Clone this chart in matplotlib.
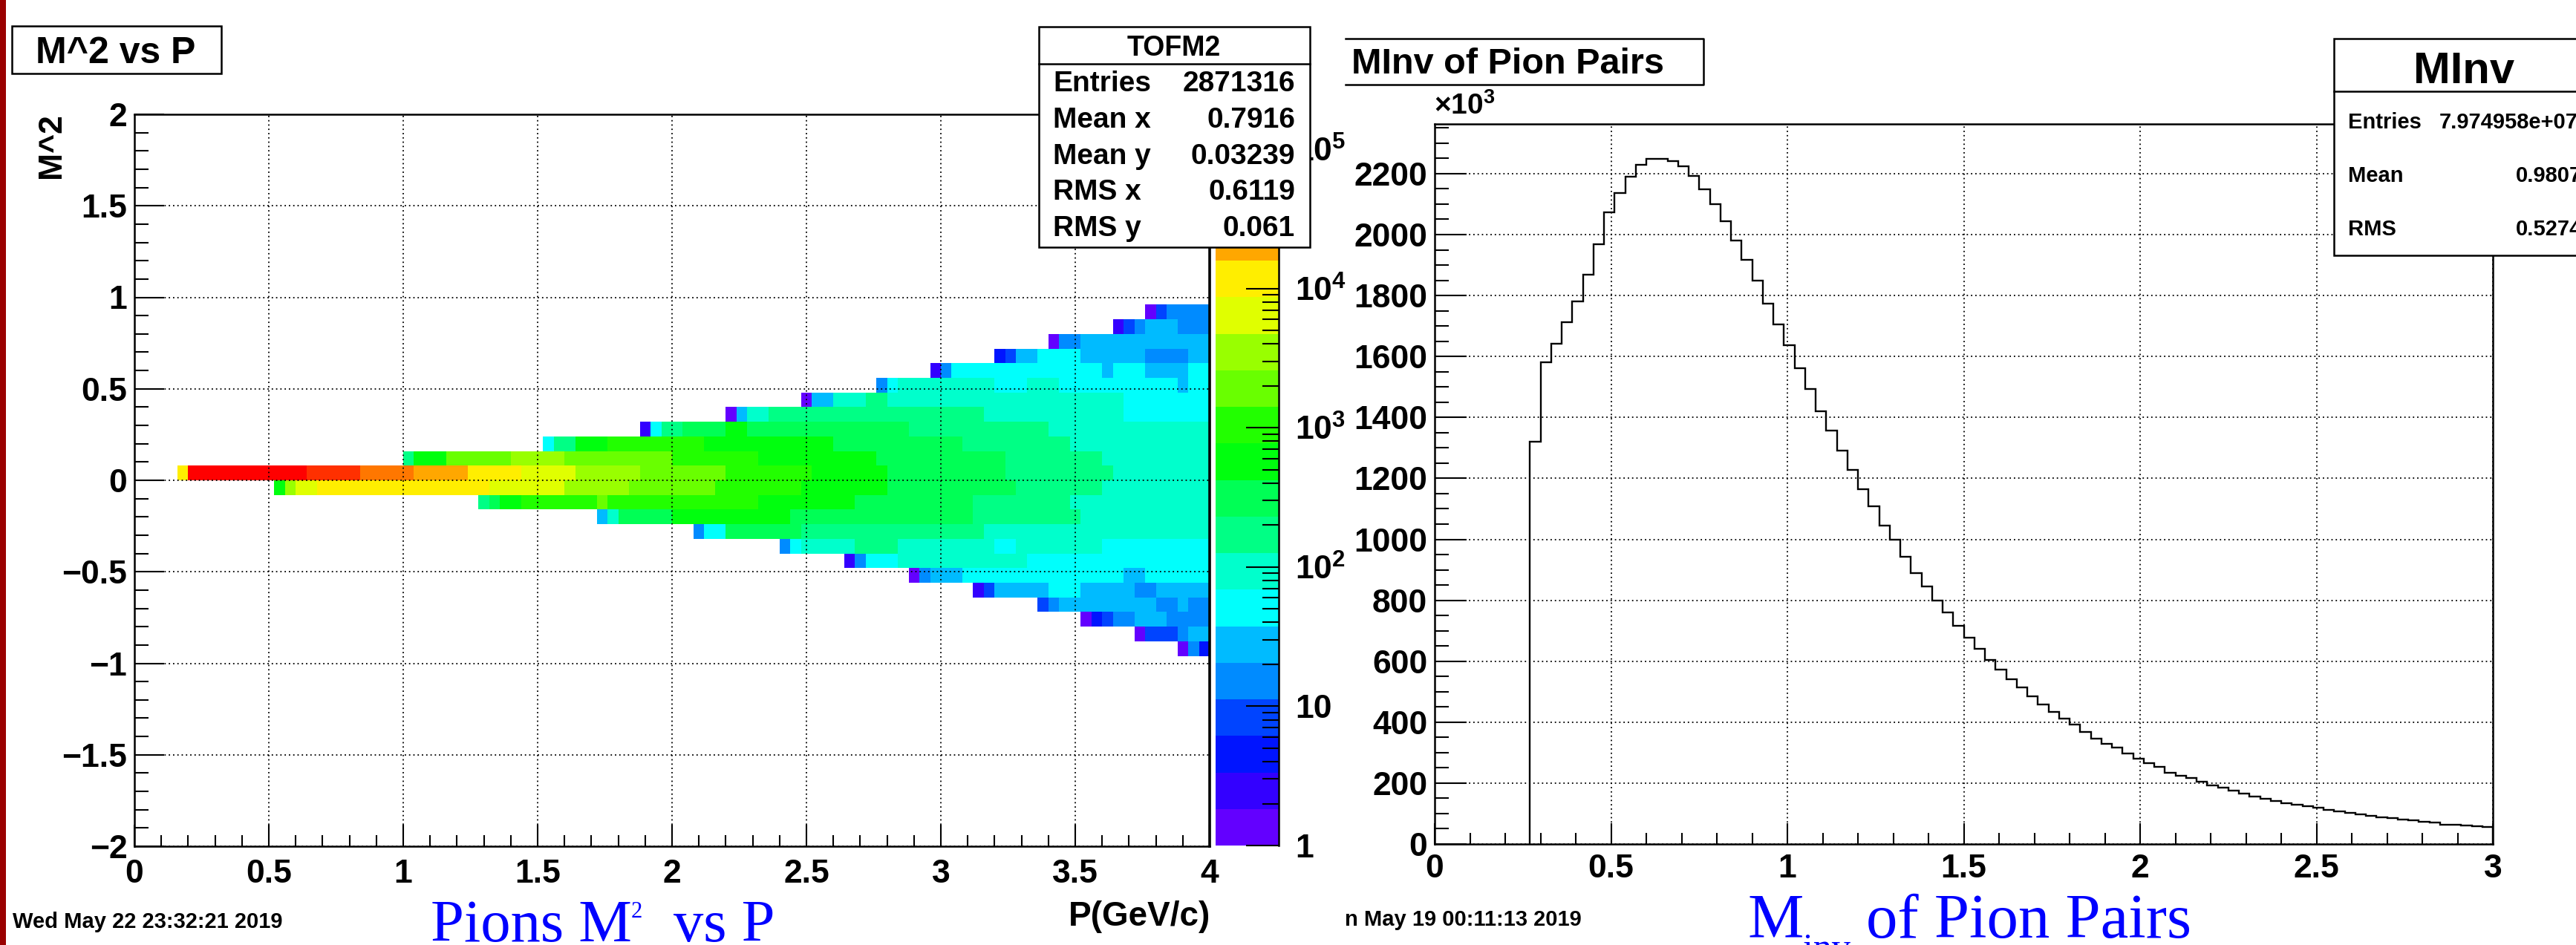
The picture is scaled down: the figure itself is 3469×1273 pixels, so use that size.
import colorsys
import numpy as np
import matplotlib
matplotlib.use("Agg")
import matplotlib.pyplot as plt
from matplotlib.colors import ListedColormap, LogNorm
from matplotlib.patches import Rectangle
from matplotlib.ticker import MultipleLocator, FixedLocator, FuncFormatter, NullFormatter

W, H = 3469, 1273
DPI = 100

plt.rcParams['font.family'] = ['Liberation Sans', 'DejaVu Sans']
plt.rcParams['font.weight'] = 'bold'
plt.rcParams['mathtext.fontset'] = 'custom'
plt.rcParams['mathtext.rm'] = 'Liberation Sans'
plt.rcParams['mathtext.bf'] = 'Liberation Sans:bold'

# ---- left panel: TOFM2, M^2 vs P (100 x 50 bins, 0..4 / -2..2) ----
# each row: lower M^2 edge, then runs of (first P-bin, colour level 0..19)
m2_row_lo = [0.88, 0.80, 0.72, 0.64, 0.56, 0.48, 0.40, 0.32, 0.24, 0.16, 0.08, 0.00,
             -0.08, -0.16, -0.24, -0.32, -0.40, -0.48, -0.56, -0.64, -0.72, -0.80, -0.88, -0.96]
m2_runs = [
    [(94, 0), (95, 3), (96, 4)],
    [(91, 1), (92, 3), (93, 4), (94, 5), (97, 4)],
    [(85, 0), (86, 4), (88, 5)],
    [(80, 2), (81, 3), (82, 5), (84, 6), (88, 5), (94, 4), (98, 5)],
    [(74, 1), (75, 4), (76, 6), (90, 5), (91, 6), (94, 5), (98, 6)],
    [(69, 4), (70, 6), (71, 7), (80, 6), (83, 7), (86, 6), (97, 5), (98, 6)],
    [(62, 0), (63, 5), (65, 7), (68, 8), (70, 7), (92, 6)],
    [(55, 0), (56, 5), (57, 7), (59, 8), (79, 7), (92, 6)],
    [(47, 1), (48, 6), (49, 8), (51, 9), (55, 10), (57, 9), (72, 8), (85, 7)],
    [(38, 6), (39, 8), (41, 10), (44, 11), (53, 10), (65, 9), (77, 8), (87, 7)],
    [(25, 8), (26, 10), (29, 12), (35, 13), (40, 12), (50, 11), (58, 10), (69, 9), (81, 8), (90, 7)],
    [(4, 15), (5, 19), (16, 18), (21, 17), (26, 16), (31, 15), (36, 14), (41, 13), (47, 12),
     (55, 11), (63, 10), (70, 9), (81, 8), (91, 7)],
    [(13, 10), (14, 13), (15, 14), (17, 15), (33, 14), (40, 13), (46, 12), (54, 11), (62, 10),
     (70, 9), (82, 8), (90, 7)],
    [(32, 8), (33, 9), (34, 10), (36, 11), (43, 12), (44, 11), (58, 10), (67, 9), (78, 8), (87, 7)],
    [(43, 5), (44, 7), (45, 9), (50, 10), (61, 9), (78, 8), (88, 7)],
    [(52, 4), (53, 6), (55, 9), (62, 8), (79, 7)],
    [(60, 4), (61, 6), (62, 7), (67, 8), (71, 7), (80, 6), (82, 7), (90, 6)],
    [(66, 1), (67, 4), (68, 6), (71, 7), (83, 6)],
    [(72, 0), (73, 4), (74, 5), (77, 6), (92, 5), (94, 6)],
    [(78, 1), (79, 3), (80, 5), (85, 6), (88, 5), (93, 4), (95, 5)],
    [(84, 3), (85, 4), (86, 5), (95, 4), (97, 5), (98, 4)],
    [(88, 0), (89, 2), (90, 3), (91, 4), (93, 5), (96, 4)],
    [(93, 0), (94, 3), (97, 4), (98, 5)],
    [(97, 0), (98, 4), (99, 2)],
]
z_log_max = 5.25      # colour axis runs 1 .. 10^5.25, 20 levels
tofm2_stats = [("Entries", "2871316"), ("Mean x", "0.7916"), ("Mean y", "0.03239"),
               ("RMS x", "0.6119"), ("RMS y", "0.061")]

# ---- right panel: MInv of pion pairs, 100 bins 0..3, shown in units of 10^3 ----
minv_first_edge = 0.27
minv_counts = [1320, 1582, 1643, 1713, 1780, 1868, 1969, 2074, 2136, 2191,
               2230, 2248, 2248, 2242, 2225, 2192, 2148, 2099, 2044, 1980,
               1918, 1848, 1773, 1705, 1636, 1562, 1494, 1420, 1358, 1290,
               1228, 1164, 1108, 1046, 998, 943, 890, 846, 798, 761,
               716, 678, 641, 604, 573, 540, 515, 484, 459, 434,
               412, 391, 368, 347, 330, 316, 298, 279, 266, 254,
               235, 224, 217, 204, 193, 186, 175, 165, 156, 148,
               142, 135, 130, 125, 119, 112, 106, 102, 97, 92,
               88, 86, 80, 77, 74, 70, 64, 63, 61, 58, 56]
minv_ymax = 2363
minv_stats = [("Entries", "7.974958e+07"), ("Mean", "0.9807"), ("RMS", "0.5274")]


def rect(x0, y0, x1, y1):
    return [x0 / W, 1 - y1 / H, (x1 - x0) / W, (y1 - y0) / H]


def num(v, pos=None):
    return ("%g" % v).replace("-", "\u2212")


# ROOT palette 1, sampled for 20 contours
palette = []
for k in range(20):
    i = int((k + 0.99) * 50 / 20)
    hue = 280 - (i + 1) * 280 / 50
    palette.append(colorsys.hls_to_rgb(hue / 360, 0.5, 1.0))
cmap = ListedColormap(palette)
norm = LogNorm(1, 10 ** z_log_max)

fig = plt.figure(figsize=(W / DPI, H / DPI), dpi=DPI)
fig.patch.set_facecolor('white')

grid_kw = dict(color='black', linestyle=(0, (1, 2.2)), linewidth=1.3)
LW = 1.8

# heatmap
counts = np.full((50, 100), np.nan)
for lo, runs in zip(m2_row_lo, m2_runs):
    r = int(round((lo + 2) / 0.08))
    ends = [c for c, _ in runs[1:]] + [100]
    for (c0, lvl), c1 in zip(runs, ends):
        counts[r, c0:c1] = 10 ** ((lvl + 0.5) * z_log_max / 20)

ax1 = fig.add_axes(rect(181, 154, 1629, 1140))
ax1.pcolormesh(np.linspace(0, 4, 101), np.linspace(-2, 2, 51),
               np.ma.masked_invalid(counts), cmap=cmap, norm=norm)
ax1.set_xlim(0, 4)
ax1.set_ylim(-2, 2)
ax1.set_axisbelow(False)
ax1.grid(True, which='major', **grid_kw)
ax1.xaxis.set_major_locator(MultipleLocator(0.5))
ax1.xaxis.set_minor_locator(MultipleLocator(0.1))
ax1.yaxis.set_major_locator(MultipleLocator(0.5))
ax1.yaxis.set_minor_locator(MultipleLocator(0.1))
ax1.xaxis.set_major_formatter(FuncFormatter(num))
ax1.yaxis.set_major_formatter(FuncFormatter(num))
ax1.tick_params(which='both', direction='in', labelsize=32, width=1.5)
ax1.tick_params(axis='x', which='major', length=21, pad=12)
ax1.tick_params(axis='x', which='minor', length=11)
ax1.tick_params(axis='y', which='major', length=29, pad=7)
ax1.tick_params(axis='y', which='minor', length=14)
for s in ax1.spines.values():
    s.set_linewidth(LW)
ax1.spines['right'].set_linewidth(2.6)

# palette axis
cax = fig.add_axes(rect(1637, 154, 1722, 1139))
band_edges = 10 ** (np.arange(21) * z_log_max / 20)
band_mid = 10 ** ((np.arange(20) + 0.5) * z_log_max / 20)
cax.pcolormesh([0, 1], band_edges, band_mid[:, None], cmap=cmap, norm=norm)
cax.set_yscale('log')
cax.set_ylim(1, 10 ** z_log_max)
cax.set_xlim(0, 1)
cax.set_xticks([])
for side in ('left', 'top', 'bottom'):
    cax.spines[side].set_visible(False)
cax.spines['right'].set_linewidth(LW)
cax.yaxis.tick_right()
cax.yaxis.set_major_locator(FixedLocator([1, 10, 1e2, 1e3, 1e4, 1e5]))
minor = [m * 10 ** d for d in range(6) for m in range(2, 10) if m * 10 ** d < 10 ** z_log_max]
cax.yaxis.set_minor_locator(FixedLocator(minor))
cax.yaxis.set_minor_formatter(NullFormatter())
cax.set_yticklabels(["1", "10", r"$\mathbf{10^{2}}$", r"$\mathbf{10^{3}}$",
                     r"$\mathbf{10^{4}}$", r"$\mathbf{10^{5}}$"])
cax.tick_params(which='both', direction='in', labelsize=32, width=1.5, pad=16)
cax.tick_params(which='major', length=32)
cax.tick_params(which='minor', length=16)

# MInv histogram
minv_edges = minv_first_edge + 0.03 * np.arange(len(minv_counts) + 1)
ax2 = fig.add_axes(rect(1932, 167, 3357, 1137))
ax2.stairs(minv_counts, minv_edges, color='black', linewidth=1.7, baseline=0)
ax2.set_xlim(0, 3)
ax2.set_ylim(0, minv_ymax)
ax2.set_axisbelow(False)
ax2.grid(True, which='major', **grid_kw)
ax2.xaxis.set_major_locator(MultipleLocator(0.5))
ax2.xaxis.set_minor_locator(MultipleLocator(0.1))
ax2.yaxis.set_major_locator(MultipleLocator(200))
ax2.yaxis.set_minor_locator(MultipleLocator(50))
ax2.xaxis.set_major_formatter(FuncFormatter(num))
ax2.yaxis.set_major_formatter(FuncFormatter(num))
ax2.tick_params(which='both', direction='in', labelsize=32, width=1.5)
ax2.tick_params(axis='x', which='major', length=20, pad=9)
ax2.tick_params(axis='x', which='minor', length=11)
ax2.tick_params(axis='y', which='major', length=31, pad=7)
ax2.tick_params(axis='y', which='minor', length=14)
for s in ax2.spines.values():
    s.set_linewidth(LW)

# overlay in pixel coordinates for boxes and free text
ov = fig.add_axes([0, 0, 1, 1], zorder=10)
ov.set_xlim(0, W)
ov.set_ylim(H, 0)
ov.axis('off')
ov.patch.set_alpha(0)

ov.add_patch(Rectangle((0, 0), 8, H, facecolor='#9a0000', edgecolor='none'))

# left title box
ov.add_patch(Rectangle((16, 35), 282, 64, facecolor='white', edgecolor='black', lw=LW))
ov.text(156, 85, "M^2 vs P", fontsize=36, ha='center', va='baseline')

# axis titles
ov.text(69, 152, "M^2", fontsize=32, rotation=90, ha='center', va='top')
ov.text(1630, 1213, "P(GeV/c)", fontsize=33, ha='right', va='top')

# TOFM2 stats box
ov.add_patch(Rectangle((1399, 36), 365, 297, facecolor='white', edgecolor='black', lw=LW, zorder=3))
ov.plot([1399, 1764], [86, 86], color='black', lw=LW, zorder=4)
ov.text(1581, 75, "TOFM2", fontsize=27, ha='center', va='baseline', zorder=5)
for j, (lab, val) in enumerate(tofm2_stats):
    yb = 123 + j * 48.8
    ov.text(1418, yb, lab, fontsize=28, ha='left', va='baseline', zorder=5)
    ov.text(1744, yb, val, fontsize=28, ha='right', va='baseline', zorder=5)

# right title box (left side cut off)
ov.plot([1812, 2294, 2294, 1812], [52, 52, 114, 114], color='black', lw=LW)
ov.text(1820, 99, "MInv of Pion Pairs", fontsize=35, ha='left', va='baseline')
ov.text(1931, 162, r"$\times10^{3}$", fontsize=28, fontweight='normal', ha='left', va='bottom')

# MInv stats box (right side cut off)
ov.add_patch(Rectangle((3143, 52), 350, 292, facecolor='white', edgecolor='black', lw=LW, zorder=3))
ov.plot([3143, 3493], [123, 123], color='black', lw=LW, zorder=4)
ov.text(3318, 112, "MInv", fontsize=43, ha='center', va='baseline', zorder=5)
for j, (lab, val) in enumerate(minv_stats):
    yb = 173 + j * 72
    ov.text(3162, yb, lab, fontsize=21, ha='left', va='baseline', zorder=5)
    ov.text(3285 if j == 0 else 3388, yb, val, fontsize=21, ha='left', va='baseline', zorder=5)

# bottom captions
ov.text(17, 1250, "Wed May 22 23:32:21 2019", fontsize=21, ha='left', va='baseline')
ov.text(1811, 1247, "n May 19 00:11:13 2019", fontsize=21, ha='left', va='baseline')

serif = ['Liberation Serif', 'DejaVu Serif']
blue = '#0000ff'
ov.text(580, 1268, "Pions M", fontsize=58, family=serif, fontweight='normal', color=blue,
        ha='left', va='baseline')
ov.text(850, 1214, "2", fontsize=22, family=serif, fontweight='normal', color=blue,
        ha='left', va='top')
ov.text(907, 1268, "vs P", fontsize=58, family=serif, fontweight='normal', color=blue,
        ha='left', va='baseline')
ov.text(2353, 1263, "M", fontsize=61, family=serif, fontweight='normal', color=blue,
        ha='left', va='baseline')
ov.text(2428, 1292, "inv", fontsize=36, family=serif, fontweight='normal', color=blue,
        ha='left', va='baseline')
ov.text(2513, 1263, "of Pion Pairs", fontsize=61, family=serif, fontweight='normal', color=blue,
        ha='left', va='baseline')

fig.savefig("out.png", dpi=DPI)
